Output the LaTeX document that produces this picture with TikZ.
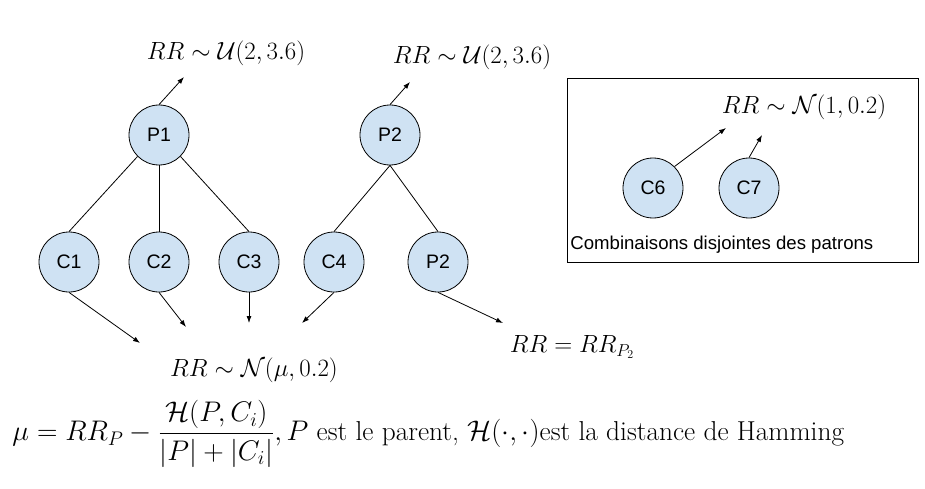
\documentclass[tikz,border=0pt]{standalone}
\usepackage{amsmath,amssymb}
\usepackage{fontspec}
\setsansfont{Liberation Sans}
\usetikzlibrary{arrows.meta}
\definecolor{nodeblue}{RGB}{207,226,243}
\tikzset{
  circ/.style={circle, draw, fill=nodeblue, minimum size=60pt, inner sep=0pt,
    font=\sffamily\fontsize{19.5}{22}\selectfont},
  lbl/.style={inner sep=0pt, font=\fontsize{24}{28}\selectfont},
  arr/.style={-{Latex[length=7pt,width=5pt]}}
}
\begin{document}
\begin{tikzpicture}[x=1pt, y=-1pt, line width=0.8pt]
            \useasboundingbox (0,0) rectangle (925,489);

            % first tree
            \node[circ] (P1) at (159,135) {P1};
            \node[circ] (C1) at (69,262) {C1};
            \node[circ] (C2) at (159,262) {C2};
            \node[circ] (C3) at (249,262) {C3};

            % second tree
            \node[circ] (P2) at (390,135) {P2};
            \node[circ] (C4) at (334,262) {C4};
            \node[circ] (P2b) at (438,262) {P2};

            % disjoint patterns
            \draw (567,78) rectangle (918,262);
            \node[circ] (C6) at (653,188) {C6};
            \node[circ] (C7) at (749,188) {C7};
            \node[anchor=west, inner sep=0pt, font=\sffamily\fontsize{18.6}{21}\selectfont] (caption) at (570,245) {Combinaisons disjointes des patrons};

            % labels
            \node[lbl] (uP1) at (226,53) {$RR\sim\mathcal{U}(2,3.6)$};
            \node[lbl] (uP2) at (472,57) {$RR\sim\mathcal{U}(2,3.6)$};
            \node[lbl] (nC) at (804,107) {$RR\sim\mathcal{N}(1,0.2)$};
            \node[lbl] (nMu) at (254,370) {$RR\sim\mathcal{N}(\mu,0.2)$};
            \node[lbl] (eqP2) at (572,347) {$RR=RR_{P_2}$};
            \node[lbl, anchor=west, scale=1.14, transform shape] (mu) at (12,434) {$\mu=RR_P-\dfrac{\mathcal{H}(P,C_i)}{|P|+|C_i|}, P$ est le parent, $\mathcal{H}(\cdot,\cdot)$est la distance de Hamming};

            % arrow ends
            \coordinate (tP1) at (184,77);
            \coordinate (tP2) at (410,82);
            \coordinate (tC6) at (726,128);
            \coordinate (tC7) at (762,135);
            \coordinate (tC1) at (140,343);
            \coordinate (tC2) at (186,327);
            \coordinate (tC3) at (249,323);
            \coordinate (tC4) at (302,323);
            \coordinate (tP2b) at (503,323);

            \draw (P1.south west) -- (C1.north);
            \draw (P1.south) -- (C2.north);
            \draw (P1.south east) -- (C3.north);
            \draw (P2.south) -- (C4.north);
            \draw (P2.south) -- (P2b.north);

            \draw[arr] (P1.north) -- (tP1);
            \draw[arr] (P2.north) -- (tP2);
            \draw[arr] (C6.north east) -- (tC6);
            \draw[arr] (C7.north) -- (tC7);
            \draw[arr] (C1.south) -- (tC1);
            \draw[arr] (C2.south) -- (tC2);
            \draw[arr] (C3.south) -- (tC3);
            \draw[arr] (C4.south) -- (tC4);
            \draw[arr] (P2b.south) -- (tP2b);
        \end{tikzpicture}
\end{document}
